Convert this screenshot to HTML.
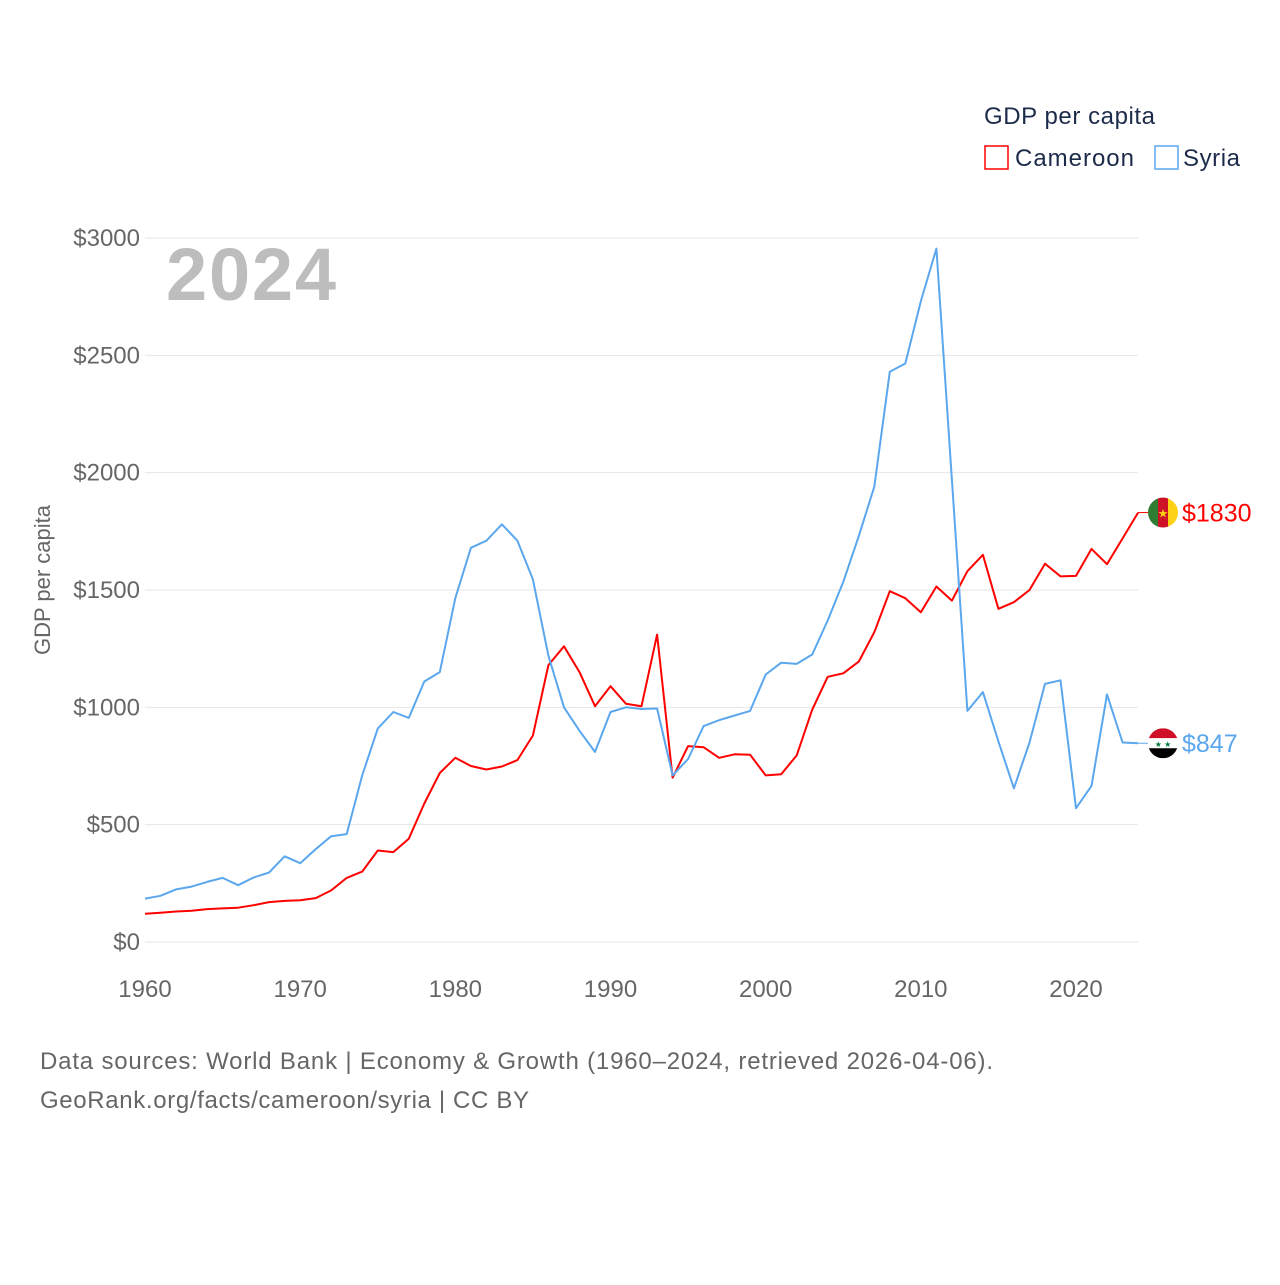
<!DOCTYPE html>
<html><head><meta charset="utf-8"><style>
body{margin:0;background:#fff;font-family:"Liberation Sans",sans-serif}
svg text{font-family:"Liberation Sans",sans-serif}
</style></head><body>
<svg width="1280" height="1280" viewBox="0 0 1280 1280">
<g id="grid"></g>
<g id="yt"></g>
<g id="xt"></g>
<text x="166" y="300" font-size="74" font-weight="bold" fill="#bdbdbd" textLength="170">2024</text>
<text x="50" y="580" font-size="22" fill="#666" transform="rotate(-90 50 580)" text-anchor="middle">GDP per capita</text>
<g id="series"></g>
<text x="984" y="124" font-size="24" fill="#1d2b4a" textLength="171">GDP per capita</text>
<g><rect x="985" y="146" width="23" height="23" fill="none" stroke="#ff0000" stroke-width="1.5"/><text x="1015" y="166" font-size="24" fill="#1d2b4a" textLength="119">Cameroon</text></g>
<g><rect x="1155" y="146" width="23" height="23" fill="none" stroke="#5ba7ee" stroke-width="1.5"/><text x="1183" y="166" font-size="24" fill="#1d2b4a" textLength="57">Syria</text></g>
<text x="40" y="1069" font-size="24" fill="#666" textLength="953">Data sources: World Bank | Economy &amp; Growth (1960–2024, retrieved 2026-04-06).</text>
<text x="40" y="1108" font-size="24" fill="#666" textLength="489">GeoRank.org/facts/cameroon/syria | CC BY</text>
</svg>
<script>
const years=[];for(let y=1960;y<=2024;y++)years.push(y);
const cameroon=[120,125,130,133,140,143,146,157,170,175,178,187,220,273,300,390,383,440,590,720,785,750,735,748,775,880,1180,1260,1150,1005,1090,1015,1005,1310,700,835,830,785,800,798,710,715,795,990,1130,1145,1195,1320,1495,1465,1405,1515,1455,1580,1650,1420,1448,1500,1612,1558,1560,1675,1610,1720,1830];
const syria=[185,197,224,236,256,273,242,275,296,365,336,396,451,460,710,910,980,955,1110,1150,1465,1680,1710,1780,1710,1545,1220,1000,900,810,980,1000,993,995,710,780,920,945,965,985,1140,1190,1185,1225,1370,1535,1730,1940,2430,2465,2730,2955,1970,985,1065,855,655,850,1100,1115,570,665,1055,850,847];
const yTicks=[0,500,1000,1500,2000,2500,3000];
const xTicks=[1960,1970,1980,1990,2000,2010,2020];
const X=y=>145+(y-1960)*(931/60);
const Y=v=>942-v*(704/3000);
const NS="http://www.w3.org/2000/svg";
function mk(t,a,p){const e=document.createElementNS(NS,t);for(const k in a)e.setAttribute(k,a[k]);p.appendChild(e);return e;}
const grid=document.getElementById('grid'),yt=document.getElementById('yt'),xt=document.getElementById('xt'),ser=document.getElementById('series');
yTicks.forEach(v=>{
 const l=mk('line',{x1:145,x2:1138,y1:Y(v),y2:Y(v),stroke:'#e6e6e6','stroke-width':1},grid);
 
 
 const t=mk('text',{x:140,y:Y(v)+8,'font-size':24,fill:'#666','text-anchor':'end'},yt);t.textContent='$'+v;
 
 
});
xTicks.forEach(v=>{
 const t=mk('text',{x:X(v),y:997,'font-size':24,fill:'#666','text-anchor':'middle'},xt);t.textContent=v;
 
 
});
function line(vals,color,name){
 const d=vals.map((v,i)=>(i?'L':'M')+X(years[i]).toFixed(1)+','+Y(v).toFixed(1)).join('');
 const p=mk('path',{d:d,fill:'none',stroke:color,'stroke-width':2,'stroke-linejoin':'round'},ser);
 
 
 const last=vals[vals.length-1],ly=Y(last);
 const c=mk('line',{x1:X(2024),x2:1148,y1:ly,y2:ly,stroke:color,'stroke-width':1},ser);
 
 
 const t=mk('text',{x:1182,y:ly+9,'font-size':25,fill:color},ser);t.textContent='$'+last;
 
 
 return ly;
}
const cy=line(cameroon,'#ff0000','cameroon-line');
const sy=line(syria,'#5ba7ee','syria-line');
let g=mk('g',{},ser);


mk('clipPath',{id:'cc'},g).appendChild(mk('circle',{cx:1163,cy:cy,r:15},g));
mk('rect',{x:1148,y:cy-15,width:10,height:30,fill:'#2f7d32','clip-path':'url(#cc)'},g);
mk('rect',{x:1158,y:cy-15,width:10,height:30,fill:'#ce1126','clip-path':'url(#cc)'},g);
mk('rect',{x:1168,y:cy-15,width:10,height:30,fill:'#fcd116','clip-path':'url(#cc)'},g);
let t=mk('text',{x:1163,y:cy+5,'font-size':12,fill:'#fcd116','text-anchor':'middle'},g);t.textContent='★';
g=mk('g',{},ser);


mk('clipPath',{id:'sc'},g).appendChild(mk('circle',{cx:1163,cy:sy,r:15},g));
mk('rect',{x:1148,y:sy-15,width:30,height:10,fill:'#ce1126','clip-path':'url(#sc)'},g);
mk('rect',{x:1148,y:sy-5,width:30,height:10,fill:'#fff','clip-path':'url(#sc)'},g);
mk('rect',{x:1148,y:sy+5,width:30,height:10,fill:'#000','clip-path':'url(#sc)'},g);
t=mk('text',{x:1163,y:sy+4,'font-size':8,fill:'#007a3d','text-anchor':'middle'},g);t.textContent='★ ★';
</script>
</body></html>
